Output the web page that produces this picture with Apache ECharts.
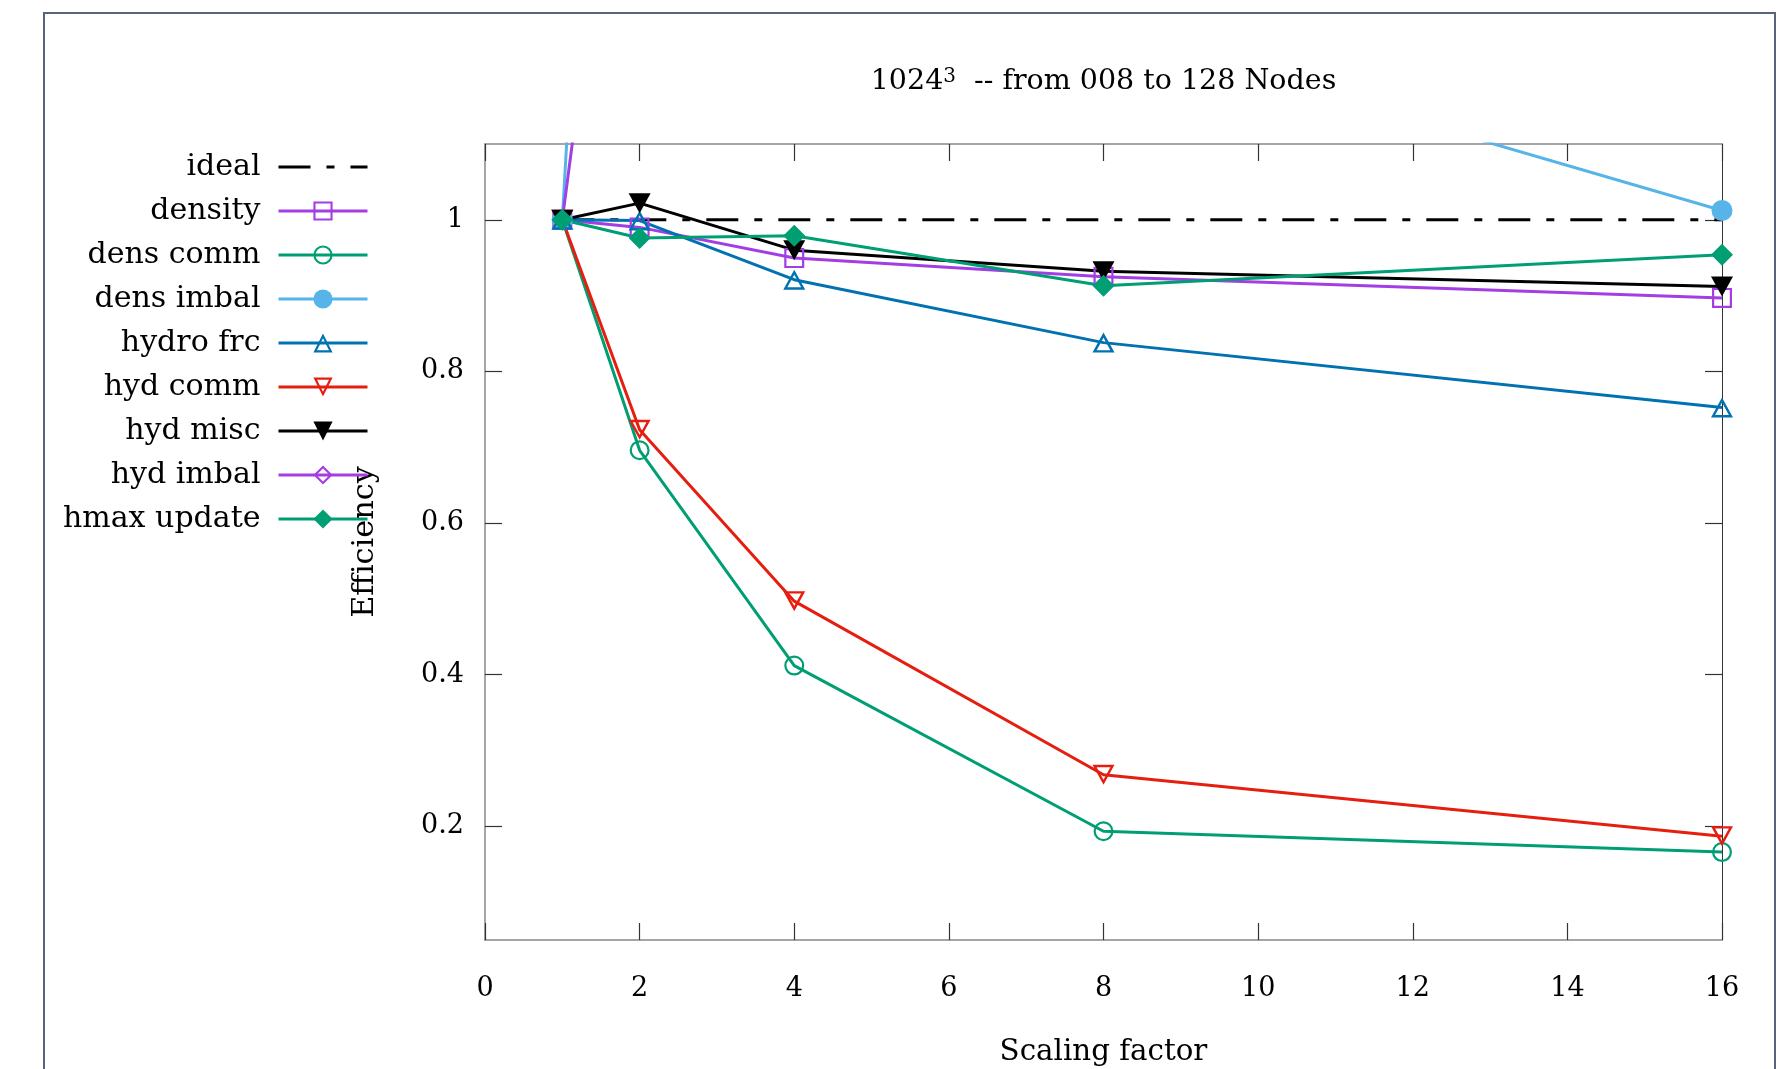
<!DOCTYPE html>
<html>
<head>
<meta charset="utf-8">
<script src="https://cdn.jsdelivr.net/npm/echarts@6/dist/echarts.min.js"></script>
<style>
  html, body { margin: 0; padding: 0; background: #fff; }
  #chart { width: 1782px; height: 1069px; }
</style>
</head>
<body>
<div id="chart"></div>
<script>
// scaling factors (x) and efficiencies per timer
var xValues = [1, 2, 4, 8, 16];
var ideal = [1, 1, 1, 1, 1];
var density = [1.0, 0.990, 0.9495, 0.925, 0.897];
var densComm = [1.0, 0.696, 0.412, 0.1935, 0.166];
var densImbal = [1.0, 2.8, 1.9, 1.25, 1.0123];
var hydroFrc = [1.0, 0.999, 0.921, 0.838, 0.7525];
var hydComm = [1.0, 0.723, 0.497, 0.268, 0.187];
var hydMisc = [1.0, 1.022, 0.960, 0.932, 0.912];
var hydImbal = [1.0, 1.78, 2.1, 2.4, 2.6];
var hmaxUpdate = [1.0, 0.976, 0.979, 0.913, 0.954];

var xTicks = [0, 2, 4, 6, 8, 10, 12, 14, 16];
var yTicks = [0.2, 0.4, 0.6, 0.8, 1];

var FONT = 'DejaVu Serif';
var VIOLET = '#a23ee4';

// hollow markers (outline only, line shows through like gnuplot)
var SYM = {
    boxHollow: 'path://M0,0H20V20H0Z M2.2,2.2V17.8H17.8V2.2Z',
    circHollow: 'path://M10,0A10,10 0 1,1 10,20A10,10 0 1,1 10,0Z M10,2.2A7.8,7.8 0 1,0 10,17.8A7.8,7.8 0 1,0 10,2.2Z',
    triUpHollow: 'path://M10,0L20,18L0,18Z M10,4.53L3.74,15.8L16.26,15.8Z',
    triDnHollow: 'path://M0,0H20L10,18Z M3.74,2.2L10,13.47L16.26,2.2Z',
    triDn: 'path://M0,0H20L10,18Z',
    diaHollow: 'path://M10,0L20,10L10,20L0,10Z M10,3.1L3.1,10L10,16.9L16.9,10Z'
};

function pts(arr) {
    return xValues.map(function (x, i) { return [x, arr[i]]; });
}

function mkSeries(name, arr, color, symbol, size, extra) {
    var s = {
        name: name,
        type: 'line',
        data: pts(arr),
        symbol: symbol,
        symbolSize: size,
        clip: true,
        animation: false,
        itemStyle: { color: color },
        lineStyle: { color: color, width: 3 }
    };
    if (extra) Object.assign(s, extra);
    return s;
}

var series = [
    mkSeries('ideal', ideal, '#000', 'circle', 0, {
        showSymbol: false,
        lineStyle: { color: '#000', width: 3, type: [32, 16, 8, 16] }
    }),
    mkSeries('density', density, VIOLET, SYM.boxHollow, 20),
    mkSeries('dens comm', densComm, '#009e73', SYM.circHollow, 20),
    mkSeries('dens imbal', densImbal, '#56b4e9', 'circle', 21),
    mkSeries('hydro frc', hydroFrc, '#0072b2', SYM.triUpHollow, [22, 20]),
    mkSeries('hyd comm', hydComm, '#e51e10', SYM.triDnHollow, [22, 20]),
    mkSeries('hyd misc', hydMisc, '#000', SYM.triDn, [22, 20]),
    mkSeries('hyd imbal', hydImbal, VIOLET, SYM.diaHollow, 21),
    mkSeries('hmax update', hmaxUpdate, '#009e73', 'diamond', 22)
];

var tickStyle = { color: '#333', width: 1.2 };
var borderStyle = { color: '#888', width: 1.5 };

var option = {
    animation: false,
    backgroundColor: '#fff',
    title: {
        text: '1024{sup|3}  -- from 008 to 128 Nodes',
        left: 1103.5,
        top: 67,
        padding: 0,
        textAlign: 'center',
        textStyle: {
            fontFamily: FONT, fontSize: 28.5, fontWeight: 'normal', color: '#000',
            rich: { sup: { fontFamily: FONT, fontSize: 20, verticalAlign: 'top', color: '#000' } }
        }
    },
    legend: {
        orient: 'vertical',
        align: 'right',
        right: 1413,
        top: 145,
        padding: 0,
        itemWidth: 89,
        itemHeight: 24,
        itemGap: 0,
        selectedMode: false,
        lineStyle: { width: 3 },
        textStyle: { fontFamily: FONT, fontSize: 30, color: '#000', lineHeight: 44, padding: [0, 13, 0, 0] },
        data: [
            { name: 'ideal', itemStyle: { opacity: 0 } },
            'density', 'dens comm', 'dens imbal', 'hydro frc',
            'hyd comm', 'hyd misc', 'hyd imbal', 'hmax update'
        ]
    },
    grid: { left: 485, right: 60, top: 144, bottom: 129, containLabel: false, outerBoundsMode: 'none' },
    xAxis: [{
        type: 'value', min: 0, max: 16, interval: 2, position: 'bottom',
        name: 'Scaling factor', nameLocation: 'middle', nameGap: 98,
        nameTextStyle: { fontFamily: FONT, fontSize: 29.3, color: '#000' },
        axisLine: { show: true, onZero: false, lineStyle: borderStyle },
        axisTick: { show: true, inside: true, length: 17, lineStyle: tickStyle,
            customValues: xTicks },
        axisLabel: { margin: 35, fontFamily: FONT, fontSize: 27, color: '#000',
            customValues: xTicks },
        splitLine: { show: false }
    }, {
        type: 'value', min: 0, max: 16, interval: 2, position: 'top',
        axisLine: { show: true, onZero: false, lineStyle: borderStyle },
        axisTick: { show: true, inside: true, length: 17, lineStyle: tickStyle },
        axisLabel: { show: false },
        splitLine: { show: false }
    }],
    yAxis: [{
        type: 'value', min: 0.05, max: 1.1, position: 'left',
        name: 'Efficiency', nameLocation: 'middle', nameGap: 105, nameRotate: 90,
        nameTextStyle: { fontFamily: FONT, fontSize: 30.3, color: '#000' },
        axisLine: { show: true, onZero: false, lineStyle: borderStyle },
        axisTick: { show: true, inside: true, length: 17, lineStyle: tickStyle,
            customValues: yTicks },
        axisLabel: { margin: 21, fontFamily: FONT, fontSize: 27, color: '#000',
            customValues: yTicks,
            formatter: function (v) { return String(+v.toFixed(2)); } },
        splitLine: { show: false }
    }, {
        type: 'value', min: 0.05, max: 1.1, position: 'right',
        axisLine: { show: true, onZero: false, lineStyle: { color: '#333', width: 1 } },
        axisTick: { show: true, inside: true, length: 17, lineStyle: tickStyle,
            customValues: yTicks },
        axisLabel: { show: false },
        splitLine: { show: false }
    }],
    graphic: [{
        type: 'rect',
        silent: true,
        shape: { x: 44, y: 13, width: 1731, height: 1100 },
        style: { fill: 'none', stroke: '#56657c', lineWidth: 2 }
    }],
    series: series
};

var chart = echarts.init(document.getElementById('chart'), null, { renderer: 'canvas' });
chart.setOption(option);
</script>
</body>
</html>
